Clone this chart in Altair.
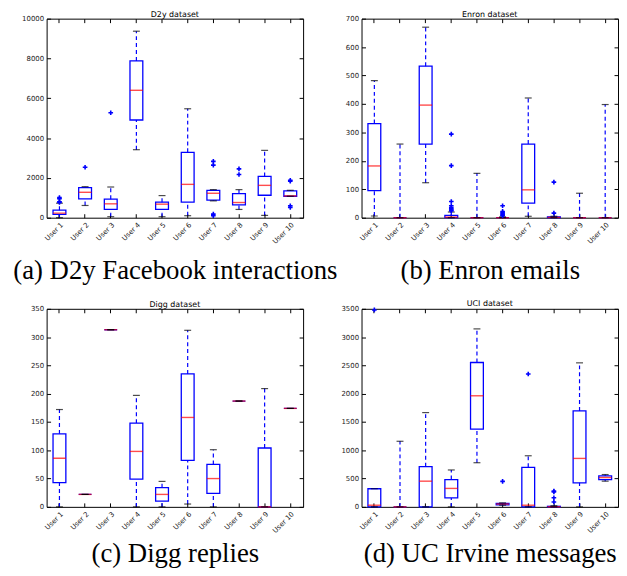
import altair as alt
import pandas as pd

USERS = [f"User {i}" for i in range(1, 11)]

# (a) D2y
A_Q1 = [170, 945, 415, 4909, 415, 779, 879, 647, 1128, 1078]
A_MED = [230, 1277, 697, 6401, 680, 1675, 1227, 763, 1625, 1095]
A_Q3 = [380, 1509, 929, 7877, 779, 3284, 1376, 1211, 2073, 1343]
A_LO = [0, 614, 50, 3416, 50, 100, 846, 415, 116, 1078]
A_HI = [730, 1559, 1542, 9370, 1111, 5473, 1410, 1410, 3383, 1376]
A_OUT_USER = ["User 1"] * 4 + ["User 2", "User 3"] + ["User 7"] * 4 + ["User 8"] * 2 + ["User 10"] * 4
A_OUT_VAL = [770, 800, 950, 1010, 2537, 5274, 2830, 2640, 180, 100, 2454, 2172, 1880, 1830, 600, 520]

# (b) Enron
B_Q1 = [95, 0, 259, 0, 0, 0, 51, 0, 0, 0]
B_MED = [182, 0, 396, 2, 0, 0, 98, 1, 0, 0]
B_Q3 = [331, 0, 533, 8, 0, 0, 259, 3, 0, 0]
B_LO = [6, 0, 123, 0, 0, 0, 5, 0, 0, 0]
B_HI = [482, 259, 670, 20, 156, 3, 421, 5, 86, 398]
B_OUT_USER = ["User 4"] * 8 + ["User 6"] * 6 + ["User 8"] * 2
B_OUT_VAL = [294, 183, 57, 42, 36, 31, 27, 24, 42, 22, 18, 14, 10, 7, 125, 16]

# (c) Digg
C_Q1 = [43, 22, 313, 49, 10, 82, 24, 187, 0, 174]
C_MED = [86, 22, 313, 98, 22, 158, 50, 187, 0, 174]
C_Q3 = [129, 22, 313, 148, 34, 235, 75, 187, 104, 174]
C_LO = [0, 22, 313, 0, 0, 5, 0, 187, 0, 174]
C_HI = [172, 22, 313, 197, 45, 312, 101, 187, 209, 174]
C_OUT_USER = []
C_OUT_VAL = []

# (d) UCI
D_Q1 = [0, 0, 0, 157, 1374, 35, 0, 0, 425, 483]
D_MED = [29, 0, 454, 326, 1963, 50, 29, 3, 856, 518]
D_Q3 = [320, 0, 711, 483, 2551, 62, 699, 10, 1695, 547]
D_LO = [0, 0, 0, 0, 780, 30, 0, 0, 0, 454]
D_HI = [320, 1159, 1666, 652, 3145, 70, 903, 20, 2545, 571]
D_OUT_USER = ["User 1", "User 6", "User 7"] + ["User 8"] * 4
D_OUT_VAL = [3480, 450, 2347, 280, 265, 160, 85]

BLUE = "#0000ff"
RED = "#ff0000"
LABEL_FONT = "DejaVu Sans"


def panel(title, caption, q1, med, q3, lo, hi, out_u, out_v, ymax, step, height, cap_y):
    df = pd.DataFrame({"user": USERS, "q1": q1, "med": med, "q3": q3, "lo": lo, "hi": hi})
    xs = alt.Scale(domain=USERS, paddingInner=0, paddingOuter=0)
    ys = alt.Scale(domain=[0, ymax], nice=False, zero=True)
    yvals = list(range(0, ymax + 1, step))

    x_axis = alt.Axis(
        labelAngle=-45, labelAlign="right", labelBaseline="top", labelFontSize=7,
        labelFont=LABEL_FONT, labelColor="#222222", tickSize=4, offset=-4, domain=False,
        tickColor="black", labelPadding=3, titleFont="Liberation Serif", titleFontSize=27,
        titleFontWeight="normal", titleColor="black", titleY=cap_y, titleBaseline="alphabetic",
    )
    y_axis = alt.Axis(
        values=yvals, format="d", labelFontSize=7, labelFont=LABEL_FONT, labelColor="#222222",
        tickSize=4, offset=-4, domain=False, tickColor="black", labelPadding=3, grid=False,
    )
    x_plain = alt.X("user:N", scale=xs, axis=None)

    whisk_up = alt.Chart(df).mark_rule(color=BLUE, strokeDash=[4, 3], strokeWidth=1.2).encode(
        x=x_plain, y=alt.Y("q3:Q", scale=ys, axis=None), y2="hi:Q")
    whisk_lo = alt.Chart(df).mark_rule(color=BLUE, strokeDash=[4, 3], strokeWidth=1.2).encode(
        x=x_plain, y=alt.Y("lo:Q", scale=ys, axis=None), y2="q1:Q")
    box = alt.Chart(df).mark_bar(width={"band": 0.5}, fillOpacity=0, stroke=BLUE, strokeWidth=1.3).encode(
        x=alt.X("user:N", scale=xs, axis=x_axis, title=caption),
        y=alt.Y("q1:Q", scale=ys, axis=y_axis, title=None), y2="q3:Q")
    median = alt.Chart(df).mark_tick(color=RED, size=13, thickness=1.4).encode(
        x=x_plain, y=alt.Y("med:Q", scale=ys, axis=None))
    cap_hi = alt.Chart(df).mark_tick(color="black", size=7, thickness=1.2).encode(
        x=alt.X("user:N", scale=xs, axis=alt.Axis(orient="top", labels=False, tickSize=4, offset=-4,
                                                   domain=False, tickColor="black"), title=None),
        y=alt.Y("hi:Q", scale=ys, axis=alt.Axis(orient="right", values=yvals, labels=False, tickSize=4,
                                                 offset=-4, domain=False, tickColor="black", grid=False),
                title=None))
    cap_lo = alt.Chart(df).mark_tick(color="black", size=7, thickness=1.2).encode(
        x=x_plain, y=alt.Y("lo:Q", scale=ys, axis=None))
    layers = [whisk_up, whisk_lo, box, median, cap_lo, cap_hi]
    if out_u:
        odf = pd.DataFrame({"user": out_u, "v": out_v})
        outl = alt.Chart(odf).mark_point(shape="M -1 0 L 1 0 M 0 -1 L 0 1", filled=False, color=BLUE,
                                         size=22, strokeWidth=1.6, opacity=1).encode(
            x=x_plain, y=alt.Y("v:Q", scale=ys, axis=None))
        layers.append(outl)
    return alt.layer(*layers).resolve_axis(x="independent", y="independent").properties(
        width=259, height=height, title=title)


pa = panel("D2y dataset", "(a) D2y Facebook interactions", A_Q1, A_MED, A_Q3, A_LO, A_HI,
           A_OUT_USER, A_OUT_VAL, 10000, 2000, 201, 65)
pb = panel("Enron dataset", "(b) Enron emails", B_Q1, B_MED, B_Q3, B_LO, B_HI,
           B_OUT_USER, B_OUT_VAL, 700, 100, 201, 65)
pc = panel("Digg dataset", "(c) Digg replies", C_Q1, C_MED, C_Q3, C_LO, C_HI,
           C_OUT_USER, C_OUT_VAL, 350, 50, 200, 59)
pd_ = panel("UCI dataset", "(d) UC Irvine messages", D_Q1, D_MED, D_Q3, D_LO, D_HI,
            D_OUT_USER, D_OUT_VAL, 3500, 500, 200, 59)

row1 = alt.hconcat(pa, pb, spacing=59, bounds="flush")
row2 = alt.hconcat(pc, pd_, spacing=59, bounds="flush")
chart = alt.vconcat(row1, row2, spacing=16).properties(
    padding={"left": 4, "top": -1, "right": 0, "bottom": 0}
).configure_view(stroke="black", strokeWidth=1).configure_title(
    font=LABEL_FONT, fontSize=8, fontWeight="normal", offset=-4, color="black"
)

chart.save("out.html", embed_options={"renderer": "svg", "actions": False})
